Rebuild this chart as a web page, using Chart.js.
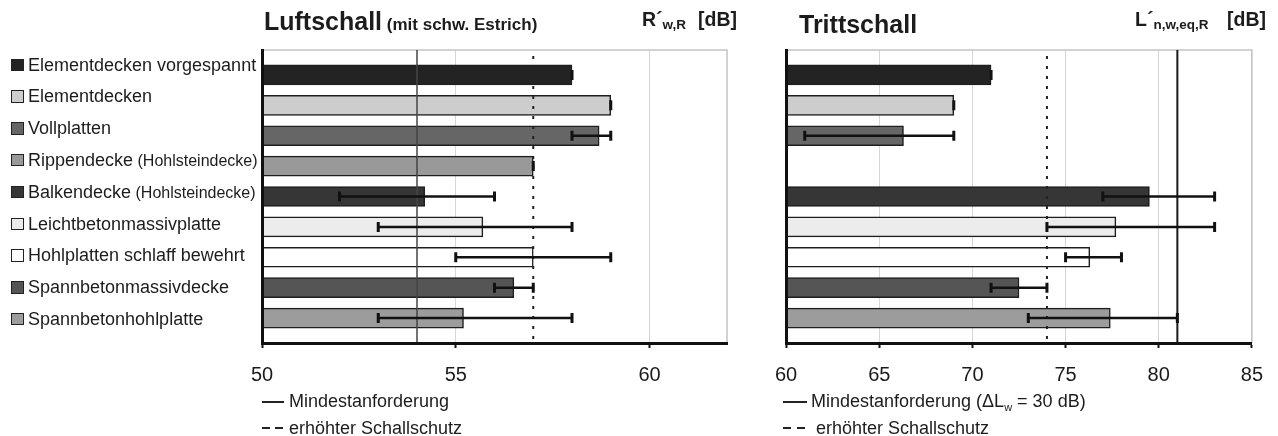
<!DOCTYPE html>
<html>
<head>
<meta charset="utf-8">
<script src="https://cdn.jsdelivr.net/npm/chart.js@4.4.1/dist/chart.umd.min.js"></script>
<style>
  body { margin: 0; background: #fff; }
  #seite { position: relative; width: 1278px; height: 436px; overflow: hidden;
           font-family: 'Liberation Sans', Arial, sans-serif; color: #1c1c1c; }
  canvas { position: absolute; top: 0; }
  .txt { position: absolute; white-space: nowrap; }
  .titel { font-size: 25px; line-height: 25px; font-weight: bold; }
  .zusatz { font-size: 17px; }
  .einheit { font-size: 19.5px; line-height: 19.5px; font-weight: bold; }
  .einheit .ind { font-size: 13.5px; position: relative; top: 3px; }
  .zeile { position: absolute; left: 0; height: 18px; font-size: 18px; line-height: 18px; white-space: nowrap; }
  .zeile .kasten { position: absolute; left: 11px; top: 3px; width: 10.5px; height: 10.5px; border: 1px solid #222; }
  .zeile .name { position: absolute; left: 28px; top: 0; }
  .zeile .klein { font-size: 16px; }
  .legtxt { font-size: 18px; line-height: 18px; }
  .strich { position: absolute; height: 2px; background: #222; }
</style>
</head>
<body>
<div id="seite">
  <canvas id="luftCanvas" width="760" height="436" style="left:0"></canvas>
  <canvas id="trittCanvas" width="518" height="436" style="left:760px"></canvas>

  <div class="txt titel" style="left:264px; top:8.8px">Luftschall<span class="zusatz"> (mit schw. Estrich)</span></div>
  <div class="txt einheit" style="left:642px; top:10.2px">R´<span class="ind">w,R</span></div>
  <div class="txt einheit" style="left:698px; top:10.2px">[dB]</div>

  <div class="txt titel" style="left:799px; top:11.8px">Trittschall</div>
  <div class="txt einheit" style="left:1135px; top:10.2px">L´<span class="ind">n,w,eq,R</span></div>
  <div class="txt einheit" style="left:1227px; top:10.2px">[dB]</div>

  <div id="legende"></div>

  <div class="strich" style="left:262px; top:401px; width:22px"></div>
  <div class="txt legtxt" style="left:289px; top:392.3px">Mindestanforderung</div>
  <div class="strich" style="left:262px; top:427px; width:8px"></div>
  <div class="strich" style="left:275px; top:427px; width:8px"></div>
  <div class="txt legtxt" style="left:289px; top:418.8px">erhöhter Schallschutz</div>

  <div class="strich" style="left:783px; top:401px; width:24px"></div>
  <div class="txt legtxt" style="left:811px; top:392.3px">Mindestanforderung (ΔL<span style="font-size:11px; position:relative; top:4px">w</span> = 30 dB)</div>
  <div class="strich" style="left:783px; top:427px; width:8px"></div>
  <div class="strich" style="left:797px; top:427px; width:8px"></div>
  <div class="txt legtxt" style="left:816px; top:418.8px">erhöhter Schallschutz</div>
</div>

<script>
const kategorien = [
  'Elementdecken vorgespannt',
  'Elementdecken',
  'Vollplatten',
  'Rippendecke',
  'Balkendecke',
  'Leichtbetonmassivplatte',
  'Hohlplatten schlaff bewehrt',
  'Spannbetonmassivdecke',
  'Spannbetonhohlplatte'
];
const zusaetze = ['', '', '', '(Hohlsteindecke)', '(Hohlsteindecke)', '', '', '', ''];
const balkenFarben = ['#232323', '#cdcdcd', '#666666', '#999999', '#363636', '#ececec', '#ffffff', '#555555', '#9c9c9c'];

// Luftschall R'w,R [dB]
const luftWerte = [58.0, 59.0, 58.7, 57.0, 54.2, 55.7, 57.0, 56.5, 55.2];
const luftVon   = [58, 59, 58, 57, 52, 53, 55, 56, 53];
const luftBis   = [58, 59, 59, 57, 56, 58, 59, 57, 58];
const luftAchse = [50, 62];
const luftMindest = 54;
const luftErhoeht = 57;

// Trittschall L'n,w,eq,R [dB]
const trittWerte = [71.0, 69.0, 66.3, null, 79.5, 77.7, 76.3, 72.5, 77.4];
const trittVon   = [71, 69, 61, null, 77, 74, 75, 71, 73];
const trittBis   = [71, 69, 69, null, 83, 83, 78, 74, 81];
const trittAchse = [60, 85];
const trittMindest = 81;
const trittErhoeht = 74;

// Legende links
const legende = document.getElementById('legende');
kategorien.forEach((name, i) => {
  const zeile = document.createElement('div');
  zeile.className = 'zeile';
  zeile.style.top = (70.7 + 31.8 * i - 15.2) + 'px';
  const kasten = document.createElement('div');
  kasten.className = 'kasten';
  kasten.style.background = balkenFarben[i];
  const text = document.createElement('div');
  text.className = 'name';
  text.textContent = name;
  if (zusaetze[i]) {
    const klein = document.createElement('span');
    klein.className = 'klein';
    klein.textContent = ' ' + zusaetze[i];
    text.appendChild(klein);
  }
  zeile.appendChild(kasten);
  zeile.appendChild(text);
  legende.appendChild(zeile);
});

// Rahmen oben und rechts
const rahmenPlugin = {
  id: 'rahmen',
  beforeDatasetsDraw(chart) {
    const {ctx, chartArea: a} = chart;
    ctx.save();
    ctx.strokeStyle = '#c4c4c4';
    ctx.lineWidth = 1.5;
    ctx.beginPath();
    ctx.moveTo(a.left, a.top);
    ctx.lineTo(a.right, a.top);
    ctx.lineTo(a.right, a.bottom);
    ctx.stroke();
    ctx.restore();
  }
};

// Anforderungslinien und Fehlerbalken
const linienPlugin = {
  id: 'linien',
  afterDatasetsDraw(chart, args, opts) {
    const {ctx, chartArea: a, scales: {x, y}} = chart;
    ctx.save();

    const xm = x.getPixelForValue(opts.mindest);
    ctx.strokeStyle = opts.mindestFarbe;
    ctx.lineWidth = opts.mindestBreite;
    ctx.beginPath();
    ctx.moveTo(xm, a.top);
    ctx.lineTo(xm, a.bottom);
    ctx.stroke();

    const xe = x.getPixelForValue(opts.erhoeht);
    ctx.strokeStyle = '#222';
    ctx.lineWidth = 2;
    ctx.setLineDash([3, 7]);
    ctx.beginPath();
    ctx.moveTo(xe, a.top + 6);
    ctx.lineTo(xe, a.bottom);
    ctx.stroke();
    ctx.setLineDash([]);

    ctx.strokeStyle = '#111';
    opts.von.forEach((v, i) => {
      if (v === null) return;
      const x1 = x.getPixelForValue(v);
      const x2 = x.getPixelForValue(opts.bis[i]);
      const py = y.getPixelForValue(i);
      ctx.lineWidth = 2.5;
      ctx.beginPath();
      ctx.moveTo(x1, py);
      ctx.lineTo(x2, py);
      ctx.stroke();
      ctx.lineWidth = 3;
      ctx.beginPath();
      ctx.moveTo(x1, py - 5);
      ctx.lineTo(x1, py + 5);
      ctx.moveTo(x2, py - 5);
      ctx.lineTo(x2, py + 5);
      ctx.stroke();
    });
    ctx.restore();
  }
};

function diagramm(canvas, werte, von, bis, achse, mindest, erhoeht, mindestFarbe, mindestBreite, padding) {
  const punkte = [];
  werte.forEach((v, i) => { if (v !== null) punkte.push({x: v, y: i}); });

  return new Chart(canvas.getContext('2d'), {
    type: 'bar',
    data: {
      datasets: [{
        data: punkte,
        backgroundColor: c => c.raw ? balkenFarben[c.raw.y] : '#999',
        borderColor: '#1e1e1e',
        borderWidth: 1.5,
        borderSkipped: false,
        barThickness: 20
      }]
    },
    options: {
      indexAxis: 'y',
      responsive: false,
      animation: false,
      events: [],
      layout: { padding },
      plugins: {
        legend: { display: false },
        tooltip: { enabled: false },
        linien: { mindest, erhoeht, mindestFarbe, mindestBreite, von, bis }
      },
      scales: {
        x: {
          type: 'linear',
          position: 'bottom',
          min: achse[0],
          max: achse[1],
          afterFit: s => { s.height = 44; },
          ticks: {
            stepSize: 5,
            includeBounds: false,
            padding: 15,
            color: '#1a1a1a',
            font: { family: "'Liberation Sans', Arial, sans-serif", size: 20 }
          },
          grid: { color: '#d6d6d6', lineWidth: 1, tickColor: '#111', tickLength: 5, tickWidth: 2 },
          border: { display: true, color: '#111', width: 3, z: 1 }
        },
        y: {
          type: 'linear',
          reverse: true,
          offset: false,
          min: -0.82,
          max: 8.82,
          afterFit: s => { s.width = 0; },
          ticks: { display: false },
          grid: { display: false, drawTicks: false, offset: false },
          border: { display: true, color: '#111', width: 3, z: 1 }
        }
      }
    },
    plugins: [rahmenPlugin, linienPlugin]
  });
}

diagramm(document.getElementById('luftCanvas'), luftWerte, luftVon, luftBis, luftAchse,
  luftMindest, luftErhoeht, '#444', 1.5, {left: 262, right: 33, top: 50, bottom: 49});
diagramm(document.getElementById('trittCanvas'), trittWerte, trittVon, trittBis, trittAchse,
  trittMindest, trittErhoeht, '#1a1a1a', 2, {left: 23, right: 21, top: 50, bottom: 49});
</script>
</body>
</html>
